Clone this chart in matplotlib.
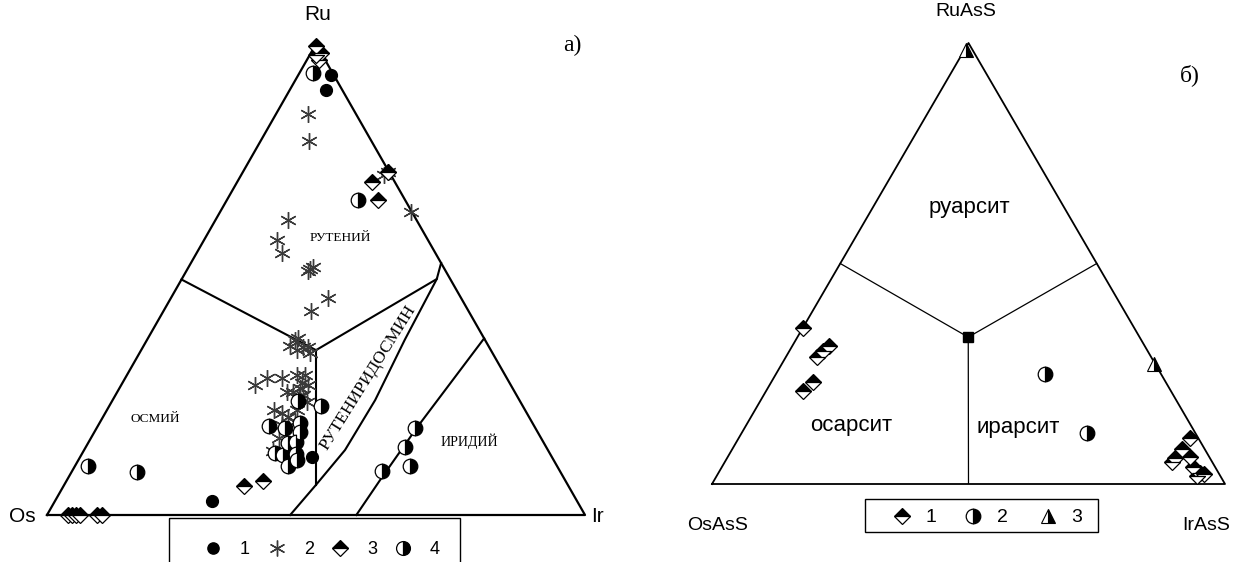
import numpy as np
import matplotlib
matplotlib.use("Agg")
import matplotlib.pyplot as plt
from matplotlib.patches import Rectangle

# ---------------- data: diagram (а) Ru-Os-Ir, values in % (Os = 100 - Ru - Ir)
a1_ru = [93.5, 90.2, 3.0, 12.3]
a1_ir = [6.0, 6.8, 29.2, 43.1]

a2_ru = [85.1, 79.4, 72.8, 72.2, 64.3, 62.6, 58.4, 55.6, 52.2, 52.7, 51.8, 46.1,
         43.3, 37.6, 37.2, 35.9, 35.0, 35.7, 34.4, 35.7, 27.6, 29.1, 29.1, 29.7,
         29.7, 28.0, 27.6, 26.1, 26.1, 25.3, 25.5, 24.0, 22.3, 21.7, 20.8, 22.3,
         19.7, 19.1, 16.3, 13.6, 27.0]
a2_ir = [5.9, 9.0, 27.0, 26.5, 35.6, 13.5, 13.6, 15.9, 22.8, 23.1, 22.6, 29.2,
         27.4, 27.9, 27.5, 27.3, 29.0, 29.8, 31.7, 30.7, 24.9, 26.4, 29.2, 31.6,
         33.1, 33.4, 34.7, 31.5, 32.6, 34.1, 34.9, 36.3, 31.1, 32.9, 34.4, 35.4,
         36.2, 34.1, 34.9, 35.2, 33.5]

a3_ru = [99.5, 98.0, 96.6, 97.7, 72.8, 70.7, 66.9, 6.2, 7.2, 0.0, 0.0, 0.0, 0.0, 0.0, 0.0]
a3_ir = [0.3, 2.0, 2.3, 1.2, 27.0, 25.0, 28.1, 33.5, 36.5, 3.9, 4.6, 5.4, 6.1, 9.3, 10.2]

a4_ru = [93.8, 66.9, 10.4, 9.1, 23.1, 18.5, 14.4, 10.4, 9.3, 24.2, 18.9, 18.5, 19.5,
         17.6, 15.5, 15.3, 13.2, 12.7, 13.0, 10.4, 11.7]
a4_ir = [2.5, 24.4, 2.4, 12.1, 39.3, 59.2, 59.3, 62.3, 57.6, 34.6, 31.9, 34.9, 37.2,
         38.2, 38.6, 37.2, 35.8, 37.5, 39.8, 39.6, 40.7]

# field boundaries of diagram (а): (Ru, Ir) %
bnd_osm_ru = [50.0, 35.0]
bnd_osm_ir = [0.0, 32.5]
bnd_vert_ru = [35.0, 6.4]
bnd_vert_ir = [32.5, 46.8]
bnd_rut_ru = [35.0, 50.1, 53.5]
bnd_rut_ir = [32.5, 47.4, 46.5]
bnd_curve_ru = [50.1, 37.2, 24.4, 13.8, 6.4, 0.0]
bnd_curve_ir = [47.4, 47.9, 48.8, 48.5, 46.8, 45.2]
bnd_ir_ru = [37.5, 18.7, 7.4, 0.0]
bnd_ir_ir = [62.5, 59.5, 58.2, 57.5]

# ---------------- data: diagram (б) RuAsS-OsAsS-IrAsS, %
b1_ru = [35.4, 31.3, 30.2, 28.8, 23.1, 21.1, 10.4, 7.9, 6.1, 5.9, 5.0, 3.9, 2.5, 2.3, 1.8]
b1_ir = [0.0, 7.2, 6.5, 6.1, 8.1, 7.2, 88.0, 87.6, 90.1, 87.4, 87.2, 91.9, 93.9, 94.8, 93.6]
b2_ru = [24.9, 11.6]
b2_ir = [52.4, 67.3]
b3_ru = [98.4, 27.2]
b3_ir = [0.3, 72.5]
b_center_ru = [33.3]
b_center_ir = [33.3]
b_edges_ru = [50.0, 50.0, 0.0]
b_edges_ir = [0.0, 50.0, 50.0]

legend_a = ["1", "2", "3", "4"]
legend_b = ["1", "2", "3"]


def tern(ru, ir):
    ru = np.asarray(ru, float) / 100.0
    ir = np.asarray(ir, float) / 100.0
    return ir + ru / 2.0, ru


W, H = 1240, 562
fig = plt.figure(figsize=(W / 100, H / 100), dpi=100)

SANS = "Liberation Sans"
SERIF = "Liberation Serif"

circ = dict(marker="o", ms=8.5, mfc="black", mec="black", ls="none")
ast = dict(marker=(6, 2, 0), ms=12, mec="#3a3a3a", mew=1.0, ls="none")
dia = dict(marker="D", ms=8.3, fillstyle="top", mfc="black", mfcalt="white",
           mec="black", mew=0.9, ls="none")
half = dict(marker="o", ms=10.5, fillstyle="right", mfc="black", mfcalt="white",
            mec="black", mew=0.9, ls="none")
tri = dict(marker="^", ms=9.5, fillstyle="right", mfc="black", mfcalt="white",
           mec="black", mew=0.8, ls="none")


def make_ax(px_left, px_base, px_w, px_h):
    ax = fig.add_axes([px_left / W, (H - px_base) / H, px_w / W, px_h / H])
    ax.set_xlim(0, 1)
    ax.set_ylim(0, 1)
    ax.axis("off")
    return ax


# ---------------- diagram (а)
axa = make_ax(47, 515, 538, 471)
axa.plot([0, 1, 0.5, 0], [0, 0, 1, 0], color="black", lw=1.6, clip_on=False)
for r, i in [(bnd_osm_ru, bnd_osm_ir), (bnd_vert_ru, bnd_vert_ir),
             (bnd_rut_ru, bnd_rut_ir), (bnd_curve_ru, bnd_curve_ir),
             (bnd_ir_ru, bnd_ir_ir)]:
    x, y = tern(r, i)
    axa.plot(x, y, color="black", lw=1.5, clip_on=False)

x, y = tern(a2_ru, a2_ir); axa.plot(x, y, clip_on=False, **ast)
x, y = tern(a4_ru, a4_ir); axa.plot(x, y, clip_on=False, **half)
x, y = tern(a1_ru, a1_ir); axa.plot(x, y, clip_on=False, **circ)
x, y = tern(a3_ru, a3_ir); axa.plot(x, y, clip_on=False, **dia)

# ---------------- diagram (б)
axb = make_ax(712, 484, 513, 441)
axb.plot([0, 1, 0.5, 0], [0, 0, 1, 0], color="black", lw=1.3, clip_on=False)
cx, cy = tern(b_center_ru, b_center_ir)
ex, ey = tern(b_edges_ru, b_edges_ir)
for xx, yy in zip(ex, ey):
    axb.plot([cx[0], xx], [cy[0], yy], color="black", lw=0.9)
axb.plot(cx, cy, marker="s", ms=6.5, color="black", ls="none")
x, y = tern(b1_ru, b1_ir); axb.plot(x, y, clip_on=False, **dia)
x, y = tern(b2_ru, b2_ir); axb.plot(x, y, clip_on=False, **half)
x, y = tern(b3_ru, b3_ir); axb.plot(x, y, clip_on=False, **tri)

# ---------------- overlay for labels / legends (pixel coordinates)
ov2 = fig.add_axes([0, 0, 1, 1], zorder=5)
ov2.set_xlim(0, W)
ov2.set_ylim(H, 0)
ov2.axis("off")

ov2.text(318, 14, "Ru", fontsize=15, family=SANS, ha="center", va="center")
ov2.text(22, 517, "Os", fontsize=15, family=SANS, ha="center", va="center")
ov2.text(597, 516, "Ir", fontsize=15, family=SANS, ha="center", va="center")
ov2.text(572, 45, "а)", fontsize=17, family=SERIF, ha="center", va="center")

ov2.text(340, 238, "РУТЕНИЙ", fontsize=9.5, family=SERIF, ha="center", va="center")
ov2.text(155, 419, "ОСМИЙ", fontsize=9.5, family=SERIF, ha="center", va="center")
ov2.text(469, 441, "ИРИДИЙ", fontsize=10, family=SERIF, ha="center", va="center")
ov2.text(368, 378, "РУТЕНИРИДОСМИН", fontsize=12.5, family=SERIF, ha="center",
         va="center", rotation=58, rotation_mode="anchor")

ov2.text(966, 12, "RuAsS", fontsize=14, family=SANS, ha="center", va="center")
ov2.text(718, 525, "OsAsS", fontsize=14, family=SANS, ha="center", va="center")
ov2.text(1206, 525, "IrAsS", fontsize=14, family=SANS, ha="center", va="center")
ov2.text(1190, 75, "б)", fontsize=17, family=SERIF, ha="center", va="center")
ov2.text(969, 208, "руарсит", fontsize=16, family=SANS, ha="center", va="center")
ov2.text(851, 425, "осарсит", fontsize=16, family=SANS, ha="center", va="center")
ov2.text(1018, 428, "ирарсит", fontsize=16, family=SANS, ha="center", va="center")

# legend (а)
ov2.add_patch(Rectangle((169, 518), 291, 60, fill=False, ec="black", lw=1.0, clip_on=False))
la_styles = [circ, ast, dia, half]
la_x = [213, 277, 340, 403]
for st, xx, lab in zip(la_styles, la_x, legend_a):
    s = dict(st)
    s["ms"] = s["ms"] * 0.95
    ov2.plot([xx], [548], **s)
    ov2.text(xx + 32, 549, lab, fontsize=13, family=SANS, ha="center", va="center")

# legend (б)
ov2.add_patch(Rectangle((865, 499), 233, 33, fill=False, ec="black", lw=1.0))
lb_styles = [dia, half, tri]
lb_x = [902, 973, 1048]
for st, xx, lab in zip(lb_styles, lb_x, legend_b):
    ov2.plot([xx], [516], **st)
    ov2.text(xx + 29, 517, lab, fontsize=14, family=SANS, ha="center", va="center")

fig.savefig("out.png", dpi=100, facecolor="white")
